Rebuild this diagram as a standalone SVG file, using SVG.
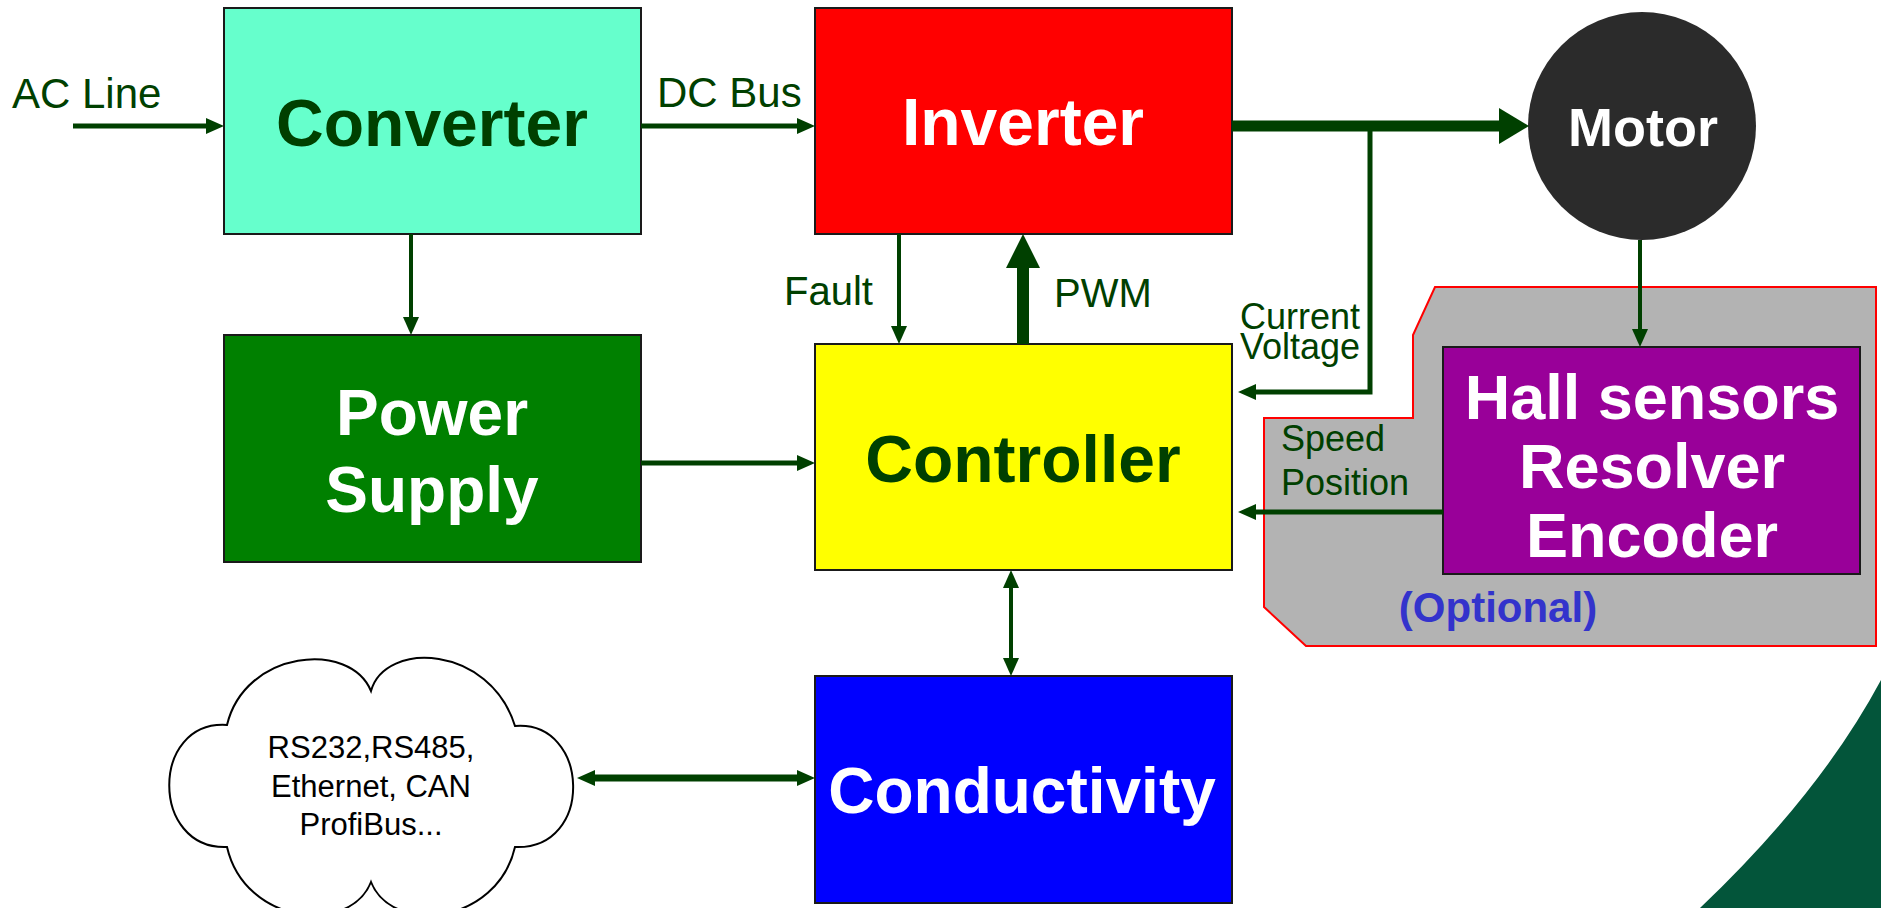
<svg xmlns="http://www.w3.org/2000/svg" width="1881" height="908" viewBox="0 0 1881 908">
<style>
.box{stroke:#1a1a1a;stroke-width:2}
.t{font-family:"Liberation Sans",Arial,sans-serif}
.title{font-family:"Liberation Sans",Arial,sans-serif;font-weight:bold;text-anchor:middle}
.lbl{font-family:"Liberation Sans",Arial,sans-serif;fill:#004000}
.c{stroke:#004000;fill:none}
</style>
<defs>
<marker id="a" markerUnits="userSpaceOnUse" markerWidth="18" markerHeight="16" refX="0" refY="8" orient="auto-start-reverse" overflow="visible"><path d="M0,0 L18,8 L0,16 Z" fill="#004000"/></marker>
<marker id="big" markerUnits="userSpaceOnUse" markerWidth="30" markerHeight="36" refX="0" refY="18" orient="auto" overflow="visible"><path d="M0,0 L30,18 L0,36 Z" fill="#004000"/></marker>
<marker id="pwm" markerUnits="userSpaceOnUse" markerWidth="34" markerHeight="34" refX="0" refY="17" orient="auto" overflow="visible"><path d="M0,0 L34,17 L0,34 Z" fill="#004000"/></marker>
</defs>
<rect width="1881" height="908" fill="#ffffff"/>
<path d="M1881,680 Q1820,794 1700,908 L1881,908 Z" fill="#03553a"/>

<g id="optional-region">
<polygon points="1435,287 1876,287 1876,646 1306,646 1264,607 1264,418 1413,418 1413,335" fill="#b3b3b3" stroke="#ff0000" stroke-width="2"/>
<text class="title" x="1498" y="622" font-size="42" fill="#3333cc">(Optional)</text>
</g>

<g id="converter">
<rect class="box" x="224" y="8" width="417" height="226" fill="#66ffcc"/>
<text class="title" x="432" y="146" font-size="66" fill="#004000">Converter</text>
</g>
<g id="inverter">
<rect class="box" x="815" y="8" width="417" height="226" fill="#ff0000"/>
<text class="title" x="1023" y="145" font-size="66" fill="#ffffff">Inverter</text>
</g>
<g id="motor">
<circle cx="1642" cy="126" r="114" fill="#2b2b2b"/>
<text class="title" x="1643" y="146" font-size="54" fill="#ffffff">Motor</text>
</g>
<g id="power-supply">
<rect class="box" x="224" y="335" width="417" height="227" fill="#008000"/>
<text class="title" x="432" y="435" font-size="64" fill="#ffffff">Power</text>
<text class="title" x="432" y="512" font-size="64" fill="#ffffff">Supply</text>
</g>
<g id="controller">
<rect class="box" x="815" y="344" width="417" height="226" fill="#ffff00"/>
<text class="title" x="1023" y="482" font-size="66" fill="#004000">Controller</text>
</g>
<g id="sensors">
<rect class="box" x="1443" y="347" width="417" height="227" fill="#990099"/>
<text class="title" x="1652" y="419" font-size="63" fill="#ffffff">Hall sensors</text>
<text class="title" x="1652" y="488" font-size="63" fill="#ffffff">Resolver</text>
<text class="title" x="1652" y="557" font-size="63" fill="#ffffff">Encoder</text>
</g>
<g id="conductivity">
<rect class="box" x="815" y="676" width="417" height="227" fill="#0000ff"/>
<text class="title" x="1022" y="813" font-size="64" fill="#ffffff">Conductivity</text>
</g>
<g id="network-cloud">
<path d="M227,725 C245,650 350,640 371,691 C385,640 490,645 515,726 C590,720 595,850 515,847 C497,925 392,935 371,882 C350,935 245,925 227,847 C150,850 150,720 227,725 Z" fill="#ffffff" stroke="#000000" stroke-width="2"/>
<text class="t" x="371" y="758" font-size="31" text-anchor="middle" fill="#000000">RS232,RS485,</text>
<text class="t" x="371" y="797" font-size="31" text-anchor="middle" fill="#000000">Ethernet, CAN</text>
<text class="t" x="371" y="835" font-size="31" text-anchor="middle" fill="#000000">ProfiBus...</text>
</g>

<g id="connectors">
<line class="c" x1="73" y1="126" x2="206" y2="126" stroke-width="5" marker-end="url(#a)"/>
<line class="c" x1="641" y1="126" x2="797" y2="126" stroke-width="5" marker-end="url(#a)"/>
<line class="c" x1="411" y1="234" x2="411" y2="317" stroke-width="4" marker-end="url(#a)"/>
<line class="c" x1="641" y1="463" x2="797" y2="463" stroke-width="5" marker-end="url(#a)"/>
<line class="c" x1="899" y1="234" x2="899" y2="326" stroke-width="4" marker-end="url(#a)"/>
<line class="c" x1="1023" y1="344" x2="1023" y2="268" stroke-width="12" marker-end="url(#pwm)"/>
<line class="c" x1="1232" y1="126" x2="1499" y2="126" stroke-width="11" marker-end="url(#big)"/>
<polyline class="c" points="1370,126 1370,392 1256,392" stroke-width="5" marker-end="url(#a)"/>
<line class="c" x1="1443" y1="512" x2="1256" y2="512" stroke-width="5" marker-end="url(#a)"/>
<line class="c" x1="1640" y1="240" x2="1640" y2="329" stroke-width="4" marker-end="url(#a)"/>
<line class="c" x1="1011" y1="588" x2="1011" y2="658" stroke-width="4" marker-start="url(#a)" marker-end="url(#a)"/>
<line class="c" x1="595" y1="778" x2="797" y2="778" stroke-width="7" marker-start="url(#a)" marker-end="url(#a)"/>
</g>

<g id="labels">
<text class="lbl" x="12" y="108" font-size="42">AC Line</text>
<text class="lbl" x="657" y="107" font-size="42">DC Bus</text>
<text class="lbl" x="784" y="305" font-size="40">Fault</text>
<text class="lbl" x="1054" y="307" font-size="40">PWM</text>
<text class="lbl" x="1240" y="329" font-size="36">Current</text>
<text class="lbl" x="1240" y="359" font-size="36">Voltage</text>
<text class="lbl" x="1281" y="451" font-size="36">Speed</text>
<text class="lbl" x="1281" y="495" font-size="36">Position</text>
</g>
</svg>
